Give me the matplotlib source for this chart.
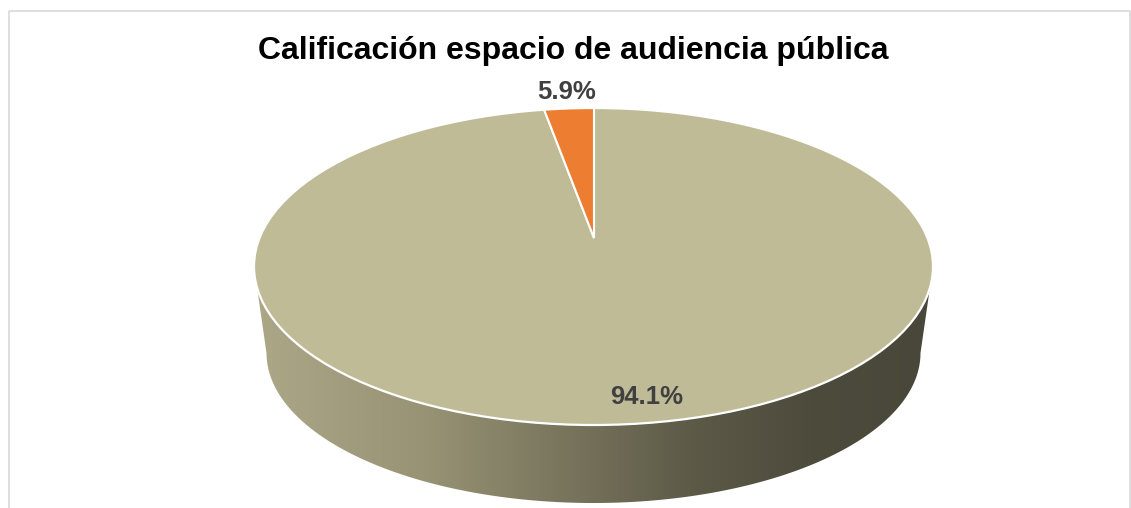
import numpy as np
import matplotlib
matplotlib.use("Agg")
import matplotlib.pyplot as plt
from matplotlib.patches import Ellipse, PathPatch, Rectangle
from matplotlib.path import Path
from matplotlib.colors import LinearSegmentedColormap

# ---- data ----
title = "Calificación espacio de audiencia pública"
categories = ["Buena", "Regular"]
values = [94.1, 5.9]
colors = ["#c0bb97", "#ed7d31"]

W, H = 1131, 508
fig = plt.figure(figsize=(W / 100, H / 100), dpi=100)
ax = fig.add_axes([0, 0, 1, 1])

def P(x, y):
    return (x, H - y)

# geometry (pixel coordinates, y down)
cx_top, cy_top, a_top, b_top = 593.5, 266.5, 339.5, 158.5
cx_bot, cy_bot, a_bot, b_bot = 593.5, 353.0, 327.0, 150.0
pie_center = (594.0, 238.0)

# ---- side of the cylinder with horizontal gradient ----
t1 = np.linspace(np.pi, 0, 200)
top_front = [P(cx_top + a_top * np.cos(t), cy_top + b_top * np.sin(t)) for t in t1]
t2 = np.linspace(0, np.pi, 200)
bot_front = [P(cx_bot + a_bot * np.cos(t), cy_bot + b_bot * np.sin(t)) for t in t2]
verts = top_front + bot_front + [top_front[0]]
codes = [Path.MOVETO] + [Path.LINETO] * (len(verts) - 2) + [Path.CLOSEPOLY]
side_patch = PathPatch(Path(verts, codes), facecolor="none", edgecolor="none")
ax.add_patch(side_patch)

grad_cmap = LinearSegmentedColormap.from_list(
    "side",
    [(0.0, (172/255, 167/255, 135/255)),
     (0.25, (152/255, 147/255, 117/255)),
     (0.45, (122/255, 118/255, 94/255)),
     (0.65, (92/255, 89/255, 71/255)),
     (0.82, (77/255, 75/255, 60/255)),
     (1.0, (73/255, 71/255, 57/255))])
x0, x1 = cx_top - a_top, cx_top + a_top
grad = np.linspace(0, 1, 512).reshape(1, -1)
im = ax.imshow(grad, cmap=grad_cmap, aspect="auto",
               extent=(x0, x1, H - (cy_bot + b_bot + 2), H - (cy_top - 2)),
               origin="lower", zorder=1)
im.set_clip_path(side_patch)

# ---- top face: pie clipped to the ellipse ----
top_ellipse = Ellipse(P(cx_top, cy_top), 2 * a_top, 2 * b_top,
                      facecolor="none", edgecolor="white", linewidth=1.6, zorder=4)
ax.add_patch(top_ellipse)
wedges, _ = ax.pie(values, colors=colors, startangle=90, counterclock=False,
                   radius=420, center=P(*pie_center),
                   wedgeprops=dict(edgecolor="white", linewidth=1.5))
for w in wedges:
    w.set_zorder(3)
    w.set_clip_on(True)
    w.set_clip_path(top_ellipse)

# ---- labels ----
labels = [f"{v:.1f}%" for v in values]
label_pos = [(647, 397), (567, 92)]
for lab, (lx, ly) in zip(labels, label_pos):
    ax.text(*P(lx, ly), lab, ha="center", va="center", fontsize=18.5,
            fontweight="bold", color="#404040", family="Liberation Sans", zorder=5)

ax.text(*P(573, 51), title, ha="center", va="center", fontsize=23,
        fontweight="bold", color="black", family="Liberation Sans", zorder=5)

# ---- chart frame ----
frame = Rectangle(P(8.5, 10.5), 1121, -520, facecolor="none",
                  edgecolor="#d9d9d9", linewidth=1.2, zorder=0)
ax.add_patch(frame)

ax.set_xlim(0, W)
ax.set_ylim(0, H)
ax.set_aspect("auto")
ax.axis("off")
fig.savefig("out.png", dpi=100, facecolor="white")
